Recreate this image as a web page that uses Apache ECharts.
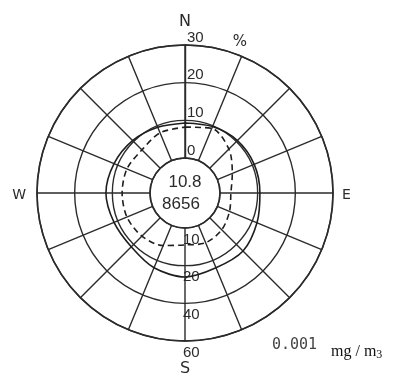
<!DOCTYPE html>
<html><head><meta charset="utf-8">
<script src="https://cdn.jsdelivr.net/npm/echarts@6/dist/echarts.min.js"></script>
<style>html,body{margin:0;padding:0;background:#fff}#c{width:414px;height:376px}</style>
</head><body><div id="c"></div>
<script>
const directions = ['N','NNE','NE','ENE','E','ESE','SE','SSE','S','SSW','SW','WSW','W','WNW','NW','NNW'];
const shownDirections = ['N','E','S','W'];
const frequencyTicks = ['0','10','20','30'];
const concentrationTicks = ['10','20','40','60'];
const concentrationValues = [9.3, 9.8, 10.4, 10.6, 10.6, 11.4, 12.5, 12.2, 13.0, 12.2, 10.9, 11.1, 11.7, 11.1, 10.4, 9.6];
const frequencyValues = [8.2, 9.3, 7.2, 4.3, 2.9, 3.5, 4.5, 5.0, 4.5, 5.8, 6.9, 7.4, 7.4, 7.4, 6.9, 8.0];
const calmText = '10.8';
const countText = '8656';
const unitText = '%';
const scaleText = '0.001';

const CX = 185, CY = 193, R0 = 35, R1 = 148;
const ink = '#2b2b2b';

// angle = direction index (0..16 around the circle)
function closed(vals) {
  const d = vals.map((v, i) => [v, i]);
  d.push([vals[0], directions.length]);
  return d;
}

const chart = echarts.init(document.getElementById('c'), null, {renderer: 'canvas'});
chart.setOption({
  backgroundColor: '#fff',
  animation: false,
  polar: [
    {center: [CX, CY], radius: [R0, R1]},
    {center: [CX, CY], radius: [R0, R1]}
  ],
  angleAxis: [
    {
      polarIndex: 0, type: 'value', min: 0, max: directions.length, interval: 1, startAngle: 90, clockwise: true,
      axisLine: {show: true, lineStyle: {color: ink, width: 1.6}},
      axisTick: {show: false},
      splitLine: {show: true, lineStyle: {color: ink, width: 1.4}},
      axisLabel: {
        show: true, margin: 7,
        formatter: v => {
          const name = directions[Math.round(v)];
          return name && shownDirections.includes(name) ? '{' + name.toLowerCase() + '|' + name + '}' : '';
        },
        rich: {
          n: {fontSize: 16, color: ink, fontFamily: 'DejaVu Sans', padding: [0, 0, 8, 0]},
          s: {fontSize: 16, color: ink, fontFamily: 'DejaVu Sans', padding: [13, 0, 0, 0]},
          e: {fontSize: 14, color: ink, fontFamily: 'DejaVu Sans', padding: [4, 0, 0, 2]},
          w: {fontSize: 14, color: ink, fontFamily: 'DejaVu Sans', padding: [4, 4, 0, 0]}
        }
      }
    },
    {
      polarIndex: 1, type: 'value', min: 0, max: directions.length, startAngle: 270,
      axisLine: {show: false}, axisTick: {show: false}, splitLine: {show: false}, axisLabel: {show: false}
    }
  ],
  radiusAxis: [
    {
      polarIndex: 0, type: 'value', min: 0, max: 30, interval: 10,
      axisLine: {show: true, lineStyle: {color: ink, width: 1.4}},
      axisTick: {show: false},
      splitLine: {show: true, lineStyle: {color: ink, width: 1.4}},
      axisLabel: {
        show: true, margin: -2, align: 'left', verticalAlign: 'bottom',
        formatter: (v) => frequencyTicks[Math.round(v / 10)],
        fontSize: 15, color: ink, fontFamily: 'Liberation Sans Narrow, Liberation Sans', padding: [0, 0, 0, 0]
      }
    },
    {
      polarIndex: 1, type: 'category', data: concentrationTicks, boundaryGap: false,
      axisLine: {show: false}, axisTick: {show: false}, splitLine: {show: false},
      axisLabel: {
        show: true, margin: -2, align: 'left', verticalAlign: 'top', interval: 0,
        fontSize: 15, color: ink, fontFamily: 'Liberation Sans Narrow, Liberation Sans', padding: [4, 0, 0, 0]
      }
    }
  ],
  series: [
    {
      type: 'line', coordinateSystem: 'polar', polarIndex: 0, data: closed(concentrationValues),
      symbol: 'none', smooth: 0.3, lineStyle: {color: '#1e1e1e', width: 1.6, type: 'solid'}, z: 5
    },
    {
      type: 'line', coordinateSystem: 'polar', polarIndex: 0, data: closed(frequencyValues),
      symbol: 'none', smooth: 0.3, lineStyle: {color: '#1e1e1e', width: 1.6, type: [6, 4]}, z: 5
    }
  ],
  graphic: [
    {type: 'text', x: CX, y: CY - 11, z: 10, style: {text: calmText, fontSize: 17, fontFamily: 'Liberation Sans Narrow, Liberation Sans', fill: ink, align: 'center', verticalAlign: 'middle'}},
    {type: 'text', x: CX - 4, y: CY + 11, z: 10, style: {text: countText, fontSize: 17, fontFamily: 'Liberation Sans Narrow, Liberation Sans', fill: ink, align: 'center', verticalAlign: 'middle'}},
    {type: 'text', x: 240, y: 42, z: 10, style: {text: unitText, fontSize: 15, fontFamily: 'DejaVu Sans', fill: ink, align: 'center', verticalAlign: 'middle'}},
    {type: 'text', x: 272, y: 345, z: 10, style: {text: scaleText, fontSize: 15, fontFamily: 'DejaVu Sans Mono', fill: '#444', align: 'left', verticalAlign: 'middle'}},
    {type: 'text', x: 331, y: 352, z: 10, style: {
      text: '{a|mg / m}{b|3}', align: 'left', verticalAlign: 'middle',
      rich: {a: {fontSize: 16, fontFamily: 'Liberation Serif', fill: '#111'}, b: {fontSize: 12, fontFamily: 'Liberation Serif', fill: '#111', padding: [5, 0, 0, 0]}}
    }}
  ]
});
</script></body></html>
